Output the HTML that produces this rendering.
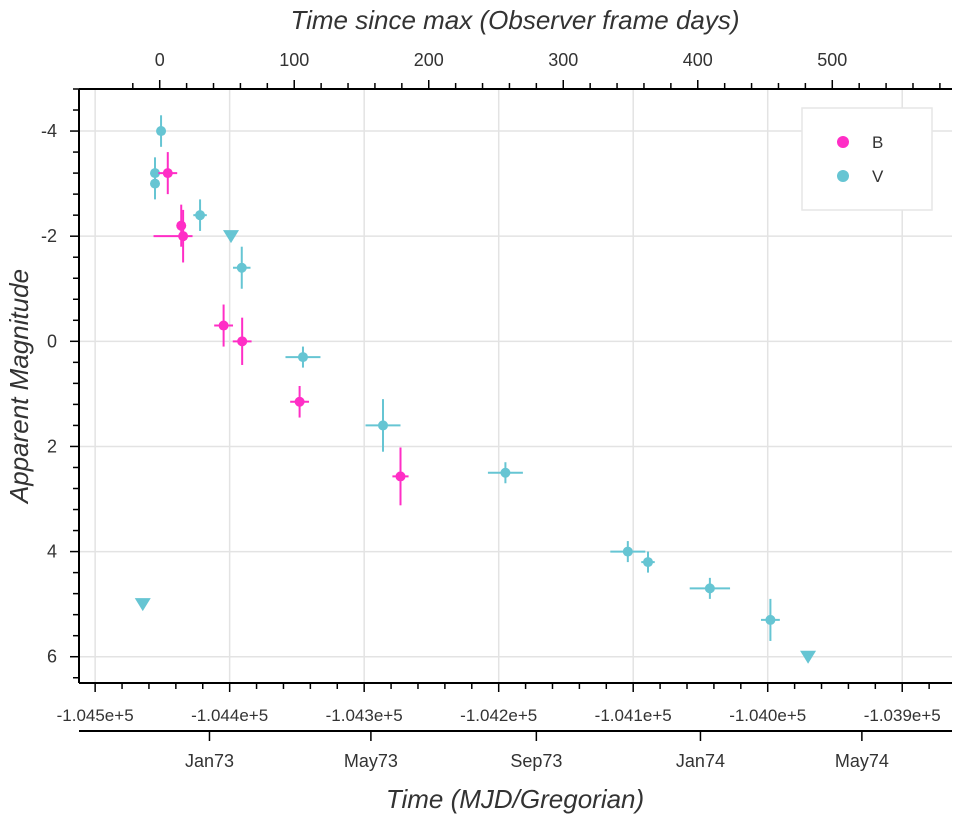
<!DOCTYPE html>
<html><head><meta charset="utf-8">
<style>
html,body{margin:0;padding:0;background:#fff;}
svg{display:block;font-family:"Liberation Sans",sans-serif;}
</style></head>
<body>
<svg id="chart" width="966" height="826" xmlns="http://www.w3.org/2000/svg"></svg>
<script>
// ---- data (days since max) ----
const tMax = -104452; // MJD of maximum
const vT    = [1, -3.5, -3.5, 30, 61, 106.5, 166, 257, 348, 363, 409, 454];
const vMag  = [-4.0, -3.2, -3.0, -2.4, -1.4, 0.3, 1.6, 2.5, 4.0, 4.2, 4.7, 5.3];
const vXerr = [0, 0, 0, 5, 6.5, 13, 13, 13, 13, 5, 15, 7];
const vYerr = [0.3, 0.3, 0.3, 0.3, 0.4, 0.2, 0.5, 0.2, 0.2, 0.2, 0.2, 0.4];
const vLimT   = [-12.6, 53, 482];
const vLimMag = [5.0, -2.0, 6.0];
const bT     = [6, 16, 17.4, 47.5, 61.3, 104, 179];
const bMag   = [-3.2, -2.2, -2.0, -0.3, 0.0, 1.15, 2.57];
const bXlo   = [7, 3, 22, 7, 7, 7, 6];
const bXhi   = [7, 3, 7, 7, 7, 7, 6];
const bYerr  = [0.4, 0.4, 0.5, 0.4, 0.45, 0.3, 0.55];
const mjdTicks  = [-104500, -104400, -104300, -104200, -104100, -104000, -103900];
const mjdLabels = ["-1.045e+5","-1.044e+5","-1.043e+5","-1.042e+5","-1.041e+5","-1.040e+5","-1.039e+5"];
const dayTicks  = [0, 100, 200, 300, 400, 500];
const magTicks  = [-4, -2, 0, 2, 4, 6];
const dateMJD   = [-104415, -104295, -104172, -104050, -103930];
const dateLabels= ["Jan73","May73","Sep73","Jan74","May74"];

// ---- layout ----
const L=79, R=952, T=89, B=683;
const xMin=-104512, xMax=-103863, yMin=-4.8, yMax=6.5;
const X = m => L + (m - xMin) / (xMax - xMin) * (R - L);
const XT = t => X(t + tMax);
const Y = v => T + (v - yMin) / (yMax - yMin) * (B - T);
const MAG='#ff2ec6', CY='#66c5d3';
const svg=document.getElementById('chart');
const NS='http://www.w3.org/2000/svg';
function el(tag, attrs, parent){const e=document.createElementNS(NS,tag);for(const k in attrs)e.setAttribute(k,attrs[k]);(parent||svg).appendChild(e);return e;}
function txt(s, attrs){const e=el('text',attrs);e.textContent=s;return e;}

// grid
for(const m of mjdTicks){const g=el('line',{x1:X(m),x2:X(m),y1:T,y2:B,stroke:'#e3e3e3','stroke-width':1.5});

}
for(const v of magTicks){const g=el('line',{x1:L,x2:R,y1:Y(v),y2:Y(v),stroke:'#e3e3e3','stroke-width':1.5});

}

// spines
el('line',{x1:L,x2:R,y1:B,y2:B,stroke:'#000','stroke-width':2,});
el('line',{x1:L,x2:L,y1:T,y2:B,stroke:'#000','stroke-width':2,});
el('line',{x1:L,x2:R,y1:T,y2:T,stroke:'#000','stroke-width':2,});
el('line',{x1:L,x2:R,y1:731,y2:731,stroke:'#000','stroke-width':2,});

// bottom ticks (minor every 20 days)
for(let m=-104500;m<=xMax;m+=20){const maj=(m%100===0);
el('line',{x1:X(m),x2:X(m),y1:B,y2:B+(maj?9:6),stroke:'#000','stroke-width':1.5});}
mjdTicks.forEach((m,i)=>{const t=txt(mjdLabels[i],{x:X(m),y:721,'text-anchor':'middle','font-size':17,fill:'#333'});

});
// top ticks
for(let d=-20;XT(d)<=R;d+=20){if(XT(d)<L)continue;const maj=(d%100===0);
el('line',{x1:XT(d),x2:XT(d),y1:T,y2:T-(maj?9:6),stroke:'#000','stroke-width':1.5});}
dayTicks.forEach(d=>{const t=txt(String(d),{x:XT(d),y:66,'text-anchor':'middle','font-size':18,fill:'#333'});

});
// y ticks every 0.4
for(let k=-12;k<=16;k++){const v=k*0.4;if(Y(v)<T-1||Y(v)>B+1)continue;const maj=Math.abs(v/2-Math.round(v/2))<1e-6;
el('line',{x1:L,x2:L-(maj?9:6),y1:Y(v),y2:Y(v),stroke:'#000','stroke-width':1.5});}
magTicks.forEach(v=>{const t=txt(String(v),{x:57,y:Y(v)+6,'text-anchor':'end','font-size':18,fill:'#333'});

});
// date axis
dateMJD.forEach((m,i)=>{el('line',{x1:X(m),x2:X(m),y1:731,y2:741,stroke:'#000','stroke-width':1.5});
const t=txt(dateLabels[i],{x:X(m),y:767,'text-anchor':'middle','font-size':18,fill:'#333'});

});

// titles
txt('Time since max (Observer frame days)',{x:515,y:29,'text-anchor':'middle','font-size':26,'font-style':'italic',fill:'#333',});
txt('Time (MJD/Gregorian)',{x:515,y:808,'text-anchor':'middle','font-size':26,'font-style':'italic',fill:'#333',});
txt('Apparent Magnitude',{x:0,y:0,transform:'translate(28,386) rotate(-90)','text-anchor':'middle','font-size':26,'font-style':'italic',fill:'#333',});

// V points
vT.forEach((t,i)=>{const g=el('g',{});


const cx=XT(t), cy=Y(vMag[i]);
el('line',{x1:cx,x2:cx,y1:Y(vMag[i]-vYerr[i]),y2:Y(vMag[i]+vYerr[i]),stroke:CY,'stroke-width':2},g);
if(vXerr[i]>0)el('line',{x1:XT(t-vXerr[i]),x2:XT(t+vXerr[i]),y1:cy,y2:cy,stroke:CY,'stroke-width':2},g);
el('circle',{cx:cx,cy:cy,r:5,fill:CY},g);});
vLimT.forEach((t,i)=>{const cx=XT(t), cy=Y(vLimMag[i]);
const p=el('path',{d:`M${cx-8},${cy-6}L${cx+8},${cy-6}L${cx},${cy+7}Z`,fill:CY});

});
// B points
bT.forEach((t,i)=>{const g=el('g',{});


const cx=XT(t), cy=Y(bMag[i]);
el('line',{x1:cx,x2:cx,y1:Y(bMag[i]-bYerr[i]),y2:Y(bMag[i]+bYerr[i]),stroke:MAG,'stroke-width':2},g);
el('line',{x1:XT(t-bXlo[i]),x2:XT(t+bXhi[i]),y1:cy,y2:cy,stroke:MAG,'stroke-width':2},g);
el('circle',{cx:cx,cy:cy,r:5,fill:MAG},g);});

// legend
const lg=el('g',{});


el('rect',{x:802,y:108,width:130,height:102,fill:'#fff',stroke:'#e6e6e6','stroke-width':1.5},lg);
const l1=el('g',{},lg);


el('circle',{cx:843,cy:142,r:6,fill:MAG},l1);
const t1=el('text',{x:872,y:148,'font-size':17,fill:'#333'},l1);t1.textContent='B';
const l2=el('g',{},lg);


el('circle',{cx:843,cy:176,r:6,fill:CY},l2);
const t2=el('text',{x:872,y:182,'font-size':17,fill:'#333'},l2);t2.textContent='V';
</script>
</body></html>
